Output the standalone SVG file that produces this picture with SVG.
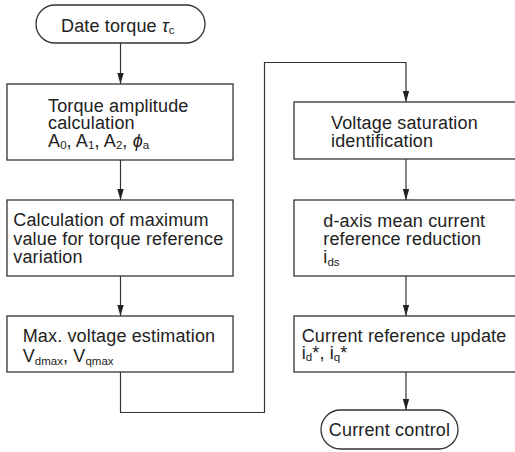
<svg xmlns="http://www.w3.org/2000/svg" width="515" height="452" viewBox="0 0 515 452">
  <style>
    .box { fill: #ffffff; stroke: #333333; stroke-width: 1.3; }
    .wire { fill: none; stroke: #333333; stroke-width: 1.2; }
    text { font-family: "Liberation Sans", Arial, sans-serif; font-size: 18px; letter-spacing: 0.15px; fill: #222222; }
    .sub { font-size: 11.5px; letter-spacing: 0; }
    .sym { font-style: italic; }
  </style>
  <defs>
    <marker id="arrow" markerUnits="userSpaceOnUse" markerWidth="12" markerHeight="7" refX="11" refY="3.2" orient="auto">
      <path d="M0,0 L11,3.2 L0,6.4 z" fill="#222222"/>
    </marker>
  </defs>
  <rect width="515" height="452" fill="#ffffff"/>

  <!-- connectors -->
  <g id="connectors">
    <line class="wire" x1="120.5" y1="43" x2="120.5" y2="84" marker-end="url(#arrow)"/>
    <line class="wire" x1="120.5" y1="160" x2="120.5" y2="200" marker-end="url(#arrow)"/>
    <line class="wire" x1="120.5" y1="276" x2="120.5" y2="316" marker-end="url(#arrow)"/>
    <polyline class="wire" points="120.5,372 120.5,412.5 264.5,412.5 264.5,62.5 406,62.5 406,102" marker-end="url(#arrow)"/>
    <line class="wire" x1="406" y1="159" x2="406" y2="200" marker-end="url(#arrow)"/>
    <line class="wire" x1="406" y1="276" x2="406" y2="316" marker-end="url(#arrow)"/>
    <line class="wire" x1="406" y1="372" x2="406" y2="410" marker-end="url(#arrow)"/>
  </g>

  <!-- start terminal -->
  <g id="start">
    <rect class="box" x="36" y="5" width="169" height="38" rx="19" ry="19"/>
    <text x="61" y="32">Date torque <tspan class="sym">τ</tspan><tspan class="sub" dy="2">c</tspan></text>
  </g>

  <!-- left column -->
  <g id="torque-amplitude">
    <rect class="box" x="7" y="84" width="226" height="76"/>
    <text x="48" y="111.7">Torque amplitude<tspan x="48" dy="17.6">calculation</tspan><tspan x="48" dy="17.4">A</tspan><tspan class="sub" dy="2.5">0</tspan><tspan dy="-2.5">, A</tspan><tspan class="sub" dy="2.5">1</tspan><tspan dy="-2.5">, A</tspan><tspan class="sub" dy="2.5">2</tspan><tspan dy="-2.5">, </tspan><tspan class="sym">ϕ</tspan><tspan class="sub" dy="2.5">a</tspan></text>
  </g>

  <g id="max-variation">
    <rect class="box" x="7" y="200" width="226" height="76"/>
    <text x="13.3" y="226">Calculation of maximum<tspan x="13.3" dy="18.5">value for torque reference</tspan><tspan x="13.3" dy="18.5">variation</tspan></text>
  </g>

  <g id="voltage-estimation">
    <rect class="box" x="7" y="316" width="226" height="56"/>
    <text x="22.7" y="342.3">Max. voltage estimation<tspan x="22.7" dy="19.7">V</tspan><tspan class="sub" dy="2.5">dmax</tspan><tspan dy="-2.5">, V</tspan><tspan class="sub" dy="2.5">qmax</tspan></text>
  </g>

  <!-- right column -->
  <g id="saturation">
    <rect class="box" x="294" y="102" width="226" height="57"/>
    <text x="331" y="129">Voltage saturation<tspan x="331" dy="17.7">identification</tspan></text>
  </g>

  <g id="current-reduction">
    <rect class="box" x="294" y="200" width="226" height="76"/>
    <text x="323.3" y="226.7">d-axis mean current<tspan x="323.3" dy="18.3">reference reduction</tspan><tspan x="323.3" dy="18.3">i</tspan><tspan class="sub" dy="2.5">ds</tspan></text>
  </g>

  <g id="reference-update">
    <rect class="box" x="294" y="316" width="226" height="56"/>
    <text x="301.7" y="341.5">Current reference update<tspan x="301.7" dy="17">i</tspan><tspan class="sub" dy="2.5">d</tspan><tspan dy="-2.5">*, i</tspan><tspan class="sub" dy="2.5">q</tspan><tspan dy="-2.5">*</tspan></text>
  </g>

  <!-- end terminal -->
  <g id="end">
    <rect class="box" x="321" y="410" width="137" height="39" rx="19.5" ry="19.5"/>
    <text x="389.5" y="436" text-anchor="middle">Current control</text>
  </g>
</svg>
